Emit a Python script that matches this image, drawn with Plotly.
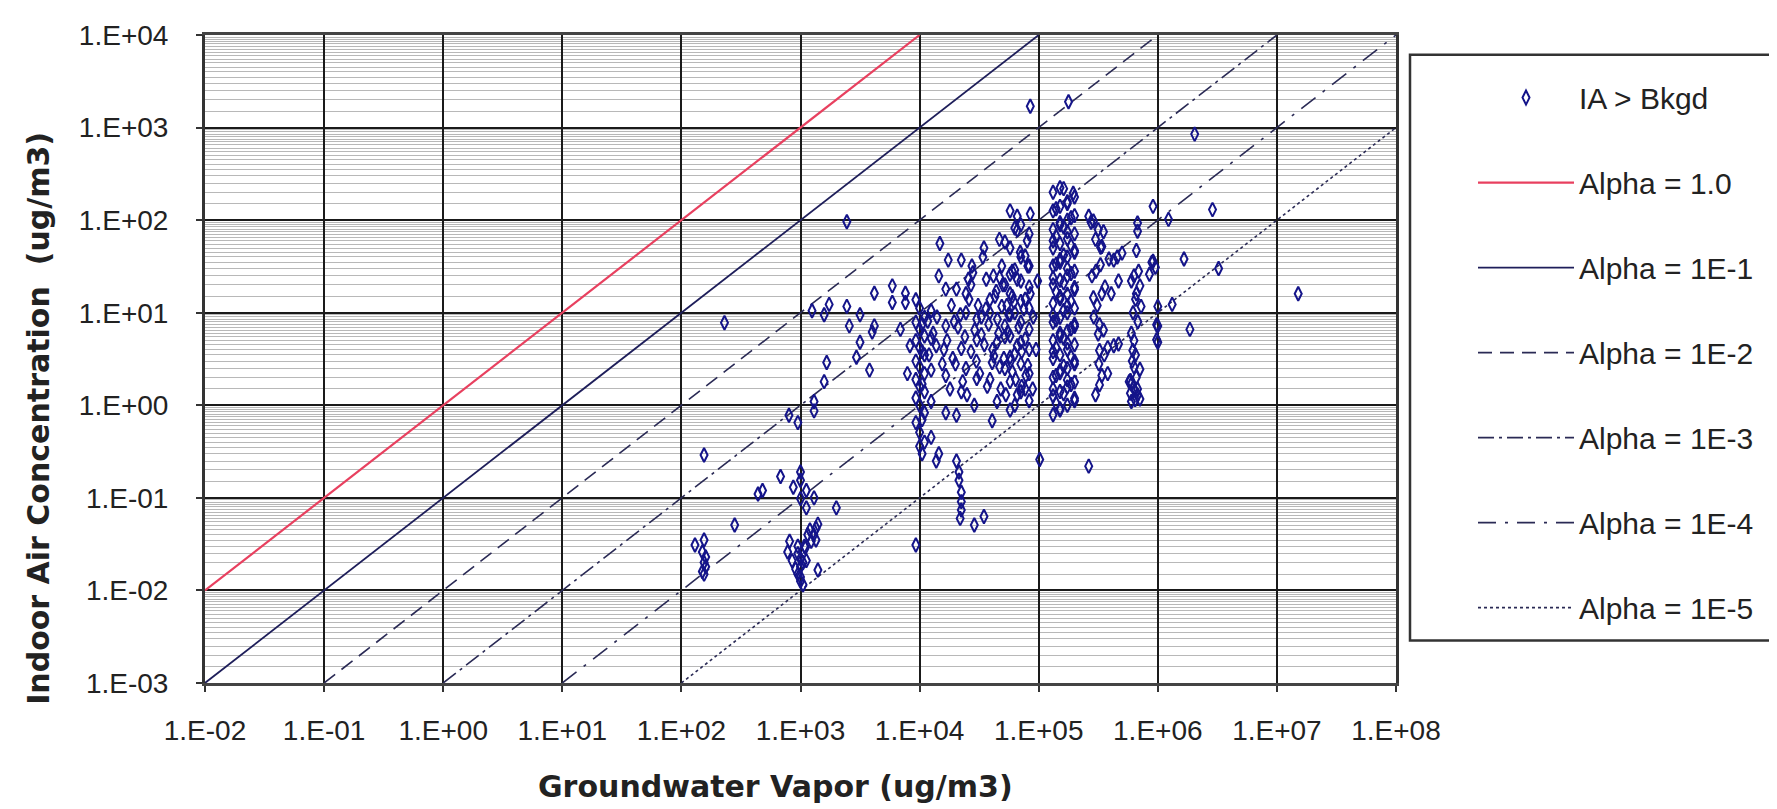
import plotly.graph_objects as go

# ---------------- data ----------------
X_TICKS = [1e-2, 1e-1, 1e0, 1e1, 1e2, 1e3, 1e4, 1e5, 1e6, 1e7, 1e8]
X_TICK_TEXT = ["1.E-02", "1.E-01", "1.E+00", "1.E+01", "1.E+02", "1.E+03",
               "1.E+04", "1.E+05", "1.E+06", "1.E+07", "1.E+08"]
Y_TICKS = [1e-3, 1e-2, 1e-1, 1e0, 1e1, 1e2, 1e3, 1e4]
Y_TICK_TEXT = ["1.E-03", "1.E-02", "1.E-01", "1.E+00", "1.E+01", "1.E+02",
               "1.E+03", "1.E+04"]

X_TITLE = "Groundwater Vapor (ug/m3)"
Y_TITLE = "Indoor Air Concentration \u00a0(ug/m3)"

# attenuation-factor reference lines (endpoints of IA = alpha * GW)
ALPHA_NAMES = ["Alpha = 1.0", "Alpha = 1E-1", "Alpha = 1E-2",
               "Alpha = 1E-3", "Alpha = 1E-4", "Alpha = 1E-5"]
ALPHA_X = [[1e-2, 1e4], [1e-2, 1e5], [1e-1, 1e6], [1e0, 1e7], [1e1, 1e8], [1e2, 1e8]]
ALPHA_Y = [[1e-2, 1e4], [1e-3, 1e4], [1e-3, 1e4], [1e-3, 1e4], [1e-3, 1e4], [1e-3, 1e3]]

# (groundwater vapor, indoor air) pairs
low_vapor = [(130, 0.031), (155, 0.035), (150, 0.026), (160, 0.023), (155, 0.020),
             (160, 0.018), (150, 0.016), (155, 0.015), (155, 0.29), (230, 7.8),
             (280, 0.051), (440, 0.11), (480, 0.12), (680, 0.17), (800, 0.78),
             (950, 0.65), (1300, 0.87)]
col_1e3 = [(870, 0.13), (1000, 0.19), (1000, 0.155), (1120, 0.12), (1000, 0.098),
           (1120, 0.078), (1300, 0.10), (2000, 0.078), (810, 0.034), (780, 0.026),
           (850, 0.021), (910, 0.017), (950, 0.015), (1000, 0.0126), (1050, 0.0115),
           (950, 0.025), (1100, 0.029), (1230, 0.034), (1290, 0.04), (1350, 0.047),
           (1400, 0.052), (1350, 0.035), (1400, 0.0166), (1000, 0.018), (1120, 0.021),
           (1000, 0.014), (1050, 0.02), (1000, 0.022), (1080, 0.03), (1150, 0.04),
           (1200, 0.045), (950, 0.03)]
mid_low = [(1740, 12.3), (1580, 9.5), (2450, 11.7), (3160, 9.5), (2570, 7.2),
           (4170, 16.2), (5900, 19.5), (5900, 12.9), (7600, 16.2), (7600, 12.9),
           (4170, 7.2), (3160, 4.8), (4000, 6.2), (2950, 3.3), (3800, 2.4),
           (1660, 2.9), (1580, 1.8), (6900, 6.6), (8300, 4.4), (7900, 2.2),
           (1250, 10.5), (1300, 1.1), (2450, 96)]
col_1e4 = [(9300, 13.8), (10000, 11.2), (11000, 8.9), (9300, 7.9), (10000, 6.6),
           (11000, 5.6), (9300, 5.0), (10000, 4.2), (11000, 3.5), (9300, 3.0),
           (10000, 2.6), (11000, 2.2), (9300, 1.9), (10000, 1.6), (11000, 1.4),
           (9300, 1.2), (10000, 1.0), (11000, 0.83), (9300, 0.65), (10000, 0.51),
           (11000, 0.40), (10000, 0.36), (9300, 0.031),
           (10500, 0.3), (12500, 0.45), (10500, 0.7), (12500, 1.1), (10500, 1.7),
           (12500, 2.4), (10500, 3.8), (12500, 5.3), (10500, 7.5), (12500, 10.5)]
mid = [(14800, 56), (17400, 37), (22400, 37), (27500, 32), (34700, 50), (46800, 62),
       (66000, 110), (85000, 117), (66000, 78), (49000, 32), (14500, 25), (16600, 18),
       (20400, 18), (24500, 16), (25700, 23), (36300, 23), (41700, 25), (11700, 8.1),
       (16600, 7.2), (24500, 10), (30200, 8.5), (38900, 10), (38900, 13.8), (49000, 11.7),
       (60000, 15), (66000, 23), (81000, 32), (85000, 16), (13800, 4.4), (22400, 4.1),
       (30200, 5.1), (44700, 4.8), (55000, 6.2), (66000, 4.4), (16600, 2.1), (24500, 2.5),
       (30200, 1.95), (40700, 2.9), (60000, 2.3), (81000, 2.7), (72000, 1.6), (22400, 1.4),
       (44700, 1.1), (66000, 1.3), (89000, 1.5), (28800, 1.0),
       (12000, 3.5), (13000, 6), (14000, 9), (15500, 2.8), (17000, 5), (18500, 12),
       (19000, 3.2), (21000, 7), (23000, 1.8), (24000, 5.5), (26000, 14), (27000, 3.8),
       (29000, 6.5), (31000, 12), (32000, 2.2), (33000, 9), (35000, 4.5), (37000, 1.6),
       (38000, 7.5), (42000, 3.4), (43000, 15), (45000, 8.5), (47000, 2.6), (50000, 20),
       (52000, 5.5), (53000, 1.3), (56000, 9.5), (58000, 3.0), (60000, 28), (62000, 13),
       (64000, 1.9), (68000, 7), (70000, 45), (72000, 3.8), (75000, 11), (78000, 2.1),
       (80000, 60), (90000, 9), (95000, 4), (98000, 22),
       (20000, 2.8), (22000, 9.5), (25000, 1.3), (27000, 20), (30000, 3), (33000, 5.8),
       (36000, 11), (39000, 1.9), (41000, 4), (44000, 17), (46000, 6), (48000, 1.5),
       (51000, 3.2), (54000, 12), (18000, 1.5), (16000, 4), (19500, 8), (28000, 27),
       (34000, 40), (47000, 24)]
mid_below = [(14500, 0.30), (13800, 0.25), (20400, 0.25), (21400, 0.19), (21400, 0.155),
             (22400, 0.115), (22400, 0.091), (22400, 0.074), (21900, 0.060), (28800, 0.051),
             (34700, 0.063), (40700, 0.68), (20400, 0.78), (16600, 0.83), (102000, 0.26),
             (263000, 0.22)]
col_7e4 = [(57500, 126), (70800, 89), (83200, 71), (57500, 50), (70800, 40), (83200, 32),
           (57500, 26), (70800, 22), (83200, 19), (57500, 16), (70800, 13.2), (83200, 11.2),
           (57500, 9.5), (70800, 7.9), (83200, 6.6), (57500, 5.6), (70800, 4.8), (83200, 4.0),
           (57500, 3.3), (70800, 2.8), (83200, 2.2), (57500, 1.8), (70800, 1.4), (83200, 1.12),
           (57500, 0.89),
           (63000, 1.0), (77000, 1.5), (52000, 2.5), (63000, 3.6), (77000, 5.2), (52000, 7.2),
           (63000, 10), (77000, 14), (52000, 20), (63000, 29), (77000, 41), (52000, 58),
           (63000, 82)]
col_1e5 = [(132000, 0.79), (151000, 0.89), (174000, 1.0), (200000, 1.12), (132000, 1.26),
           (151000, 1.41), (174000, 1.58), (200000, 1.78), (132000, 2.0), (151000, 2.24),
           (174000, 2.5), (200000, 2.8), (132000, 3.2), (151000, 3.5), (174000, 4.0),
           (200000, 4.5), (132000, 5.0), (151000, 5.6), (174000, 6.3), (200000, 7.1),
           (132000, 7.9), (151000, 8.9), (174000, 10), (200000, 11.2), (132000, 12.6),
           (151000, 14.1), (174000, 15.8), (200000, 17.8), (132000, 20), (151000, 22.4),
           (174000, 25), (200000, 28), (132000, 32), (151000, 35), (174000, 40),
           (200000, 45), (132000, 50), (151000, 56), (174000, 63), (200000, 71),
           (132000, 79), (151000, 89), (174000, 100), (200000, 112), (132000, 126),
           (151000, 141), (174000, 158), (200000, 178), (132000, 200), (151000, 224),
           (151000, 0.92), (200000, 1.19), (132000, 1.5), (174000, 1.88), (151000, 2.37),
           (200000, 3.0), (132000, 3.8), (174000, 4.7), (151000, 6.0), (200000, 7.5),
           (132000, 9.4), (174000, 11.9), (151000, 15), (200000, 18.8), (132000, 23.7),
           (174000, 30), (151000, 37.6), (200000, 47), (132000, 60), (174000, 75),
           (151000, 94),
           (140000, 1.05), (162000, 1.33), (187000, 1.68), (140000, 2.1), (162000, 2.65),
           (187000, 3.35), (140000, 4.2), (162000, 5.3), (187000, 6.7), (140000, 8.4),
           (162000, 10.6), (187000, 13.3), (140000, 16.8), (162000, 21), (187000, 26.5),
           (140000, 33.5), (162000, 42), (187000, 53), (140000, 67), (162000, 84),
           (187000, 106), (140000, 133)]
high = [(162000, 219), (195000, 195), (174000, 151), (912000, 141), (1230000, 102),
        (288000, 98), (316000, 79), (676000, 93), (676000, 76), (339000, 52),
        (661000, 47), (1660000, 38), (912000, 36), (955000, 31), (389000, 38),
        (457000, 40), (302000, 28), (468000, 22), (631000, 25), (851000, 26),
        (661000, 16), (407000, 16), (339000, 16), (288000, 14.5), (1320000, 12.3),
        (977000, 7.4), (1860000, 6.6), (977000, 5.1), (324000, 7.4), (316000, 5.9),
        (324000, 3.9), (380000, 4.2), (468000, 4.6), (631000, 5.0), (617000, 3.9),
        (631000, 2.6), (380000, 2.2), (324000, 1.66), (589000, 1.86), (589000, 1.35),
        (676000, 1.29), (646000, 1.15), (708000, 19.5), (724000, 11.7), (708000, 2.45),
        (676000, 1.5), (708000, 1.17), (339000, 2.1), (575000, 1.8), (355000, 3.5),
        (427000, 4.4), (1000000, 7.2), (1000000, 4.8), (1000000, 11.7), (891000, 35),
        (501000, 44), (427000, 37), (275000, 95), (263000, 110), (331000, 51),
        (600000, 1.1), (640000, 1.45), (600000, 1.7), (660000, 2.0), (610000, 3.0),
        (650000, 3.5), (600000, 6), (680000, 8), (620000, 10), (650000, 14),
        (600000, 22), (690000, 28),
        (300000, 1.3), (320000, 2.8), (350000, 6.5), (290000, 9), (310000, 12),
        (360000, 19), (280000, 25), (330000, 33), (300000, 62), (350000, 75)]
outliers = [(85000, 1700), (178000, 1900), (2040000, 850), (2880000, 130),
            (15100000, 16), (3240000, 30)]

all_pairs = (low_vapor + col_1e3 + mid_low + col_1e4 + mid + mid_below +
             col_7e4 + col_1e5 + high + outliers)
gw_vapor = [p[0] for p in all_pairs]
indoor_air = [p[1] for p in all_pairs]

# ---------------- styling ----------------
FONT = "Liberation Sans, Arial, sans-serif"
TITLE_FONT = "DejaVu Sans, Arial, sans-serif"
TXT = "#222222"
line_styles = [
    dict(color="#e8405f", width=2.2, dash="solid"),
    dict(color="#1e1e5a", width=1.8, dash="solid"),
    dict(color="#2a2a55", width=1.6, dash="14px,8px"),
    dict(color="#2a2a55", width=1.6, dash="16px,5px,3px,5px"),
    dict(color="#2a2a55", width=1.6, dash="18px,9px,3px,9px"),
    dict(color="#2a2a55", width=1.6, dash="3px,3px"),
]

fig = go.Figure()
for i, (name, xs, ys) in enumerate(zip(ALPHA_NAMES, ALPHA_X, ALPHA_Y)):
    fig.add_trace(go.Scatter(
        x=xs, y=ys, mode="lines", name=name, line=line_styles[i],
        legendgroup=name, legendrank=i + 2, hoverinfo="skip"))

fig.add_trace(go.Scatter(
    x=gw_vapor, y=indoor_air, mode="markers", name="IA > Bkgd",
    legendgroup="ia", legendrank=1,
    marker=dict(symbol="diamond-tall-open", size=10, color="#14148a",
                line=dict(width=2.0, color="#14148a"))))

# dense minor horizontal grid like the original
minor_y = [m * 10.0 ** e for e in range(-3, 4)
           for m in (1.5, 2, 2.5, 3, 3.5, 4, 4.5, 5, 5.5, 6, 6.5, 7, 7.5, 8, 8.5, 9, 9.5)]

L, R, T, B = 197, 389, 20, 134
W, H = 1777, 809
pw = W - L - R
ph = H - T - B


def px_x(x):
    return (x - L) / pw


def px_y(y):
    return (H - B - y) / ph


fig.update_layout(
    width=W, height=H, autosize=False,
    margin=dict(l=L, r=R, t=T, b=B),
    paper_bgcolor="white", plot_bgcolor="white",
    font=dict(family=FONT, color=TXT, size=28),
    showlegend=True,
    legend=dict(x=px_x(1465), xanchor="left", y=px_y(57), yanchor="top",
                bgcolor="rgba(0,0,0,0)", borderwidth=0,
                font=dict(family=FONT, size=30, color=TXT),
                itemwidth=96, tracegroupgap=43, traceorder="grouped"),
    shapes=[dict(type="rect", xref="paper", yref="paper",
                 x0=px_x(1402), x1=px_x(1776), y0=px_y(632), y1=px_y(40),
                 line=dict(color="#333333", width=2.5), fillcolor="rgba(0,0,0,0)")],
    annotations=[
        dict(text=X_TITLE, xref="paper", yref="paper", x=px_x(767), y=px_y(780),
             xanchor="center", yanchor="middle", showarrow=False,
             font=dict(family=TITLE_FONT, size=30, color=TXT, weight="bold")),
        dict(text=Y_TITLE, xref="paper", yref="paper", x=px_x(31), y=px_y(408),
             xanchor="center", yanchor="middle", showarrow=False, textangle=-90,
             font=dict(family=TITLE_FONT, size=30, color=TXT, weight="bold")),
    ],
)

fig.update_xaxes(
    type="log", range=[-2, 8], tickmode="array", tickvals=X_TICKS, ticktext=X_TICK_TEXT,
    showgrid=True, gridcolor="#1a1a1a", gridwidth=2, zeroline=False,
    ticks="outside", ticklen=6, tickcolor="#333", tickwidth=2,
    tickfont=dict(size=28, family=FONT, color=TXT), ticklabelstandoff=14,
    showline=True, linecolor="#444", linewidth=3, mirror=True,
)
fig.update_yaxes(
    type="log", range=[-3, 4], tickmode="array", tickvals=Y_TICKS, ticktext=Y_TICK_TEXT,
    showgrid=True, gridcolor="#1a1a1a", gridwidth=2.2, zeroline=False,
    ticks="outside", ticklen=6, tickcolor="#333", tickwidth=2,
    tickfont=dict(size=28, family=FONT, color=TXT), ticklabelstandoff=22,
    showline=True, linecolor="#333", linewidth=3, mirror=True,
    minor=dict(tickmode="array", tickvals=minor_y, showgrid=True,
               gridcolor="#b8b8b8", gridwidth=1, ticks=""),
)

fig.write_html("out.html")
